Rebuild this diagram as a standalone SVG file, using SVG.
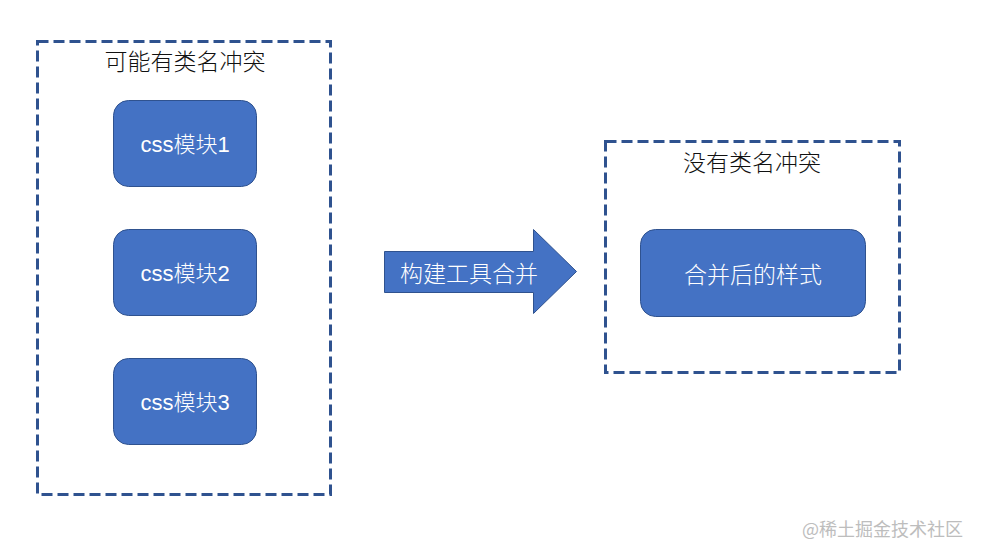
<svg xmlns="http://www.w3.org/2000/svg" width="981" height="557" viewBox="0 0 981 557">
<style>
.frame{fill:none;stroke:#2F528F;stroke-width:3;stroke-dasharray:11 5}
.box{fill:#4472C4;stroke:#2F528F;stroke-width:1}
.lt{font-family:"Liberation Sans","Noto Sans CJK SC",sans-serif;font-size:22px;font-weight:300;fill:#ffffff;text-anchor:middle;dominant-baseline:central}
.cn{font-family:"Noto Sans CJK SC",sans-serif;font-size:23px;font-weight:300;fill:#ffffff;text-anchor:middle;dominant-baseline:central}
.title{font-family:"Noto Sans CJK SC",sans-serif;font-size:23px;font-weight:300;fill:#111111;text-anchor:middle;dominant-baseline:central}
.wm{font-family:"Noto Sans CJK SC",sans-serif;font-size:18px;fill:#bdbdbd;text-anchor:end;dominant-baseline:central}
</style>
<rect width="981" height="557" fill="#ffffff"/>
<g id="group-left">
<rect class="frame" x="37.5" y="41.5" width="293" height="453"/>
<text class="title" x="185" y="60">可能有类名冲突</text>
</g>
<g id="node-css1">
<rect class="box" x="113.5" y="100.5" width="143" height="86" rx="15"/>
<text class="lt" x="185" y="144">css模块1</text>
</g>
<g id="node-css2">
<rect class="box" x="113.5" y="229.5" width="143" height="86" rx="15"/>
<text class="lt" x="185" y="273">css模块2</text>
</g>
<g id="node-css3">
<rect class="box" x="113.5" y="358.5" width="143" height="86" rx="15"/>
<text class="lt" x="185" y="402">css模块3</text>
</g>
<g id="connectors">
<g id="arrow-merge">
<polygon class="box" points="384.5,251.5 533.5,251.5 533.5,229.5 576.5,271.5 533.5,313.5 533.5,292.5 384.5,292.5"/>
<text class="cn" x="469" y="272">构建工具合并</text>
</g>
</g>
<g id="group-right">
<rect class="frame" x="605.5" y="141.5" width="294" height="231"/>
<text class="title" x="752" y="161">没有类名冲突</text>
</g>
<g id="node-merged">
<rect class="box" x="640.5" y="229.5" width="225" height="87" rx="15"/>
<text class="cn" x="753" y="273">合并后的样式</text>
</g>
<text class="wm" x="963" y="528">@稀土掘金技术社区</text>
</svg>
